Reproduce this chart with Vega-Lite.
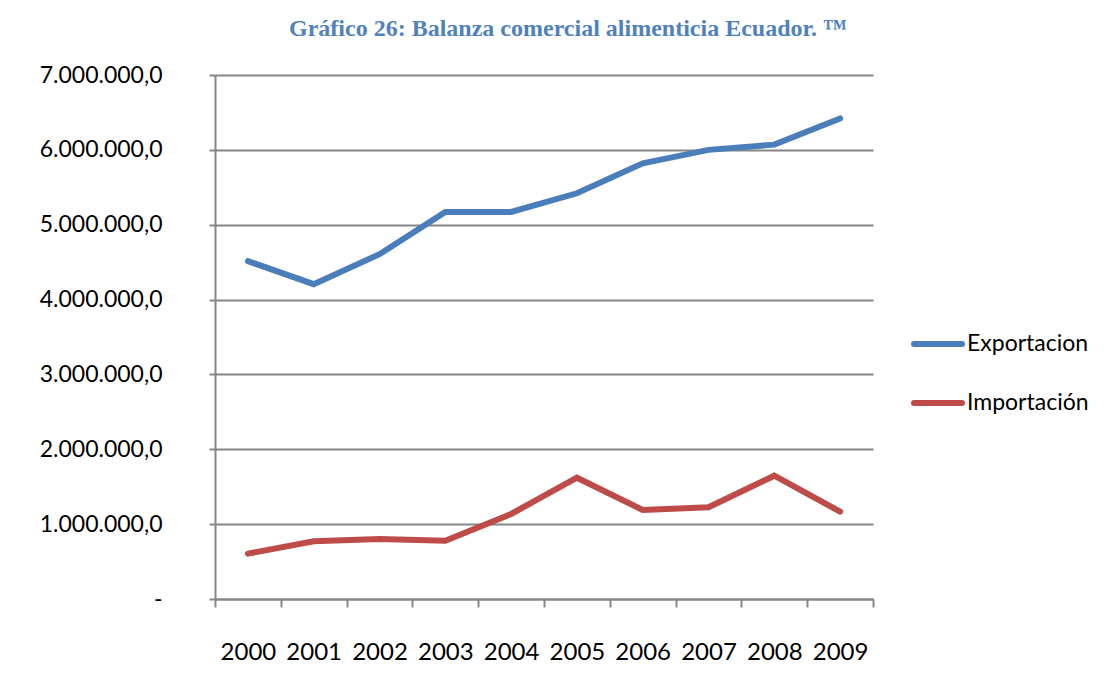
{
  "$schema": "https://vega.github.io/schema/vega-lite/v6.json",
  "autosize": "none",
  "width": 658,
  "height": 524,
  "padding": {"left": 215, "top": 75, "right": 237, "bottom": 94},
  "background": "white",
  "title": {
    "text": "Gráfico 26: Balanza comercial alimenticia Ecuador. ™",
    "font": "Liberation Serif",
    "fontSize": 24,
    "fontWeight": "bold",
    "color": "#4F81BD",
    "anchor": "middle",
    "dx": 24,
    "offset": 23
  },
  "data": {
    "values": [
      {"anio": "2000", "serie": "Exportacion", "valor": 4513000},
      {"anio": "2001", "serie": "Exportacion", "valor": 4206000},
      {"anio": "2002", "serie": "Exportacion", "valor": 4606000},
      {"anio": "2003", "serie": "Exportacion", "valor": 5170000},
      {"anio": "2004", "serie": "Exportacion", "valor": 5170000},
      {"anio": "2005", "serie": "Exportacion", "valor": 5420000},
      {"anio": "2006", "serie": "Exportacion", "valor": 5820000},
      {"anio": "2007", "serie": "Exportacion", "valor": 6000000},
      {"anio": "2008", "serie": "Exportacion", "valor": 6070000},
      {"anio": "2009", "serie": "Exportacion", "valor": 6420000},
      {"anio": "2000", "serie": "Importación", "valor": 606000},
      {"anio": "2001", "serie": "Importación", "valor": 772000},
      {"anio": "2002", "serie": "Importación", "valor": 800000},
      {"anio": "2003", "serie": "Importación", "valor": 777000},
      {"anio": "2004", "serie": "Importación", "valor": 1136000},
      {"anio": "2005", "serie": "Importación", "valor": 1620000},
      {"anio": "2006", "serie": "Importación", "valor": 1190000},
      {"anio": "2007", "serie": "Importación", "valor": 1225000},
      {"anio": "2008", "serie": "Importación", "valor": 1647000},
      {"anio": "2009", "serie": "Importación", "valor": 1167000}
    ]
  },
  "mark": {"type": "line", "strokeWidth": 6, "strokeCap": "round", "strokeJoin": "miter"},
  "encoding": {
    "x": {
      "field": "anio",
      "type": "ordinal",
      "scale": {"type": "band", "paddingInner": 0, "paddingOuter": 0},
      "axis": {
        "title": null,
        "labelAngle": 0,
        "tickBand": "extent",
        "domainColor": "#868686",
        "domainWidth": 2,
        "tickColor": "#868686",
        "tickWidth": 2,
        "tickSize": 8,
        "labelFont": "Lato",
        "labelFontSize": 24,
        "labelColor": "#000000",
        "labelPadding": 33,
        "grid": false
      }
    },
    "y": {
      "field": "valor",
      "type": "quantitative",
      "scale": {"domain": [0, 7000000], "nice": false},
      "axis": {
        "title": null,
        "values": [0, 1000000, 2000000, 3000000, 4000000, 5000000, 6000000, 7000000],
        "format": ",.1f",
        "labelExpr": "datum.value == 0 ? '-' : datum.label",
        "grid": true,
        "gridColor": "#868686",
        "gridWidth": 2,
        "domainColor": "#868686",
        "domainWidth": 2,
        "tickColor": "#868686",
        "tickWidth": 2,
        "tickSize": 6,
        "labelFont": "Lato",
        "labelFontSize": 23,
        "labelColor": "#000000",
        "labelPadding": 47
      }
    },
    "color": {
      "field": "serie",
      "type": "nominal",
      "scale": {"domain": ["Exportacion", "Importación"], "range": ["#4A7EBB", "#BE4B48"]},
      "legend": {
        "title": null,
        "orient": "none",
        "legendX": 696,
        "legendY": 242,
        "padding": 0,
        "symbolType": "stroke",
        "symbolSize": 2304,
        "symbolStrokeWidth": 6,
        "labelFont": "Lato",
        "labelFontSize": 23,
        "labelColor": "#000000",
        "labelOffset": 2,
        "rowPadding": 20,
        "encode": {"symbols": {"update": {"strokeCap": {"value": "round"}}}}
      }
    }
  },
  "config": {
    "locale": {
      "number": {"decimal": ",", "thousands": ".", "grouping": [3], "currency": ["$", ""]}
    },
    "view": {"stroke": null}
  }
}
